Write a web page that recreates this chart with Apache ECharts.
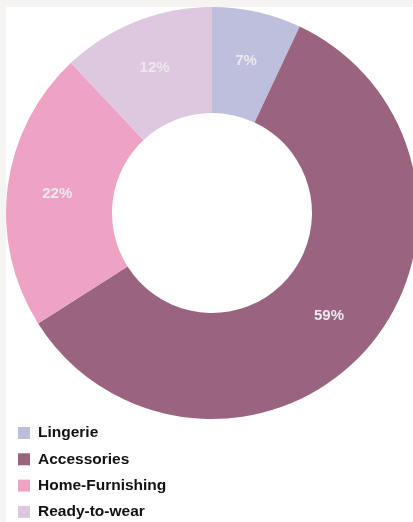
<!DOCTYPE html>
<html>
<head>
<meta charset="utf-8">
<title>Donut</title>
<script src="https://cdn.jsdelivr.net/npm/echarts@6/dist/echarts.min.js"></script>
<style>
  html, body { margin: 0; padding: 0; background: #f5f4f2; }
  body { width: 413px; height: 522px; position: relative; overflow: hidden; }
  #main { position: absolute; left: 6px; top: 7px; width: 407px; height: 515px; background: #fff; }
</style>
</head>
<body>
<div id="main"></div>
<script>
var categories = ['Lingerie', 'Accessories', 'Home-Furnishing', 'Ready-to-wear'];
var shares = [7, 59, 22, 12];
var colors = ['#bdbfdd', '#9a6480', '#eea3c5', '#dec8e0'];

var chart = echarts.init(document.getElementById('main'));

var pieData = categories.map(function (name, i) {
    return { name: name, value: shares[i], itemStyle: { color: colors[i] } };
});

chart.setOption({
    animation: false,
    legend: {
        orient: 'vertical',
        left: 12,
        top: 418,
        height: 120,
        padding: 0,
        itemWidth: 12,
        itemHeight: 12,
        itemGap: 10.3,
        icon: 'rect',
        data: categories,
        textStyle: {
            fontFamily: 'Liberation Sans, Arial',
            fontWeight: 'bold',
            fontSize: 15.5,
            color: '#111',
            padding: [0, 0, 0, 3]
        }
    },
    series: [{
        type: 'pie',
        center: [206, 206],
        radius: [100, 206],
        startAngle: 90,
        clockwise: true,
        silent: true,
        label: {
            position: 'inside',
            formatter: '{c}%',
            color: '#ece8ee',
            fontFamily: 'Liberation Sans, Arial',
            fontWeight: 'bold',
            fontSize: 15
        },
        labelLine: { show: false },
        data: pieData
    }]
});
</script>
</body>
</html>
